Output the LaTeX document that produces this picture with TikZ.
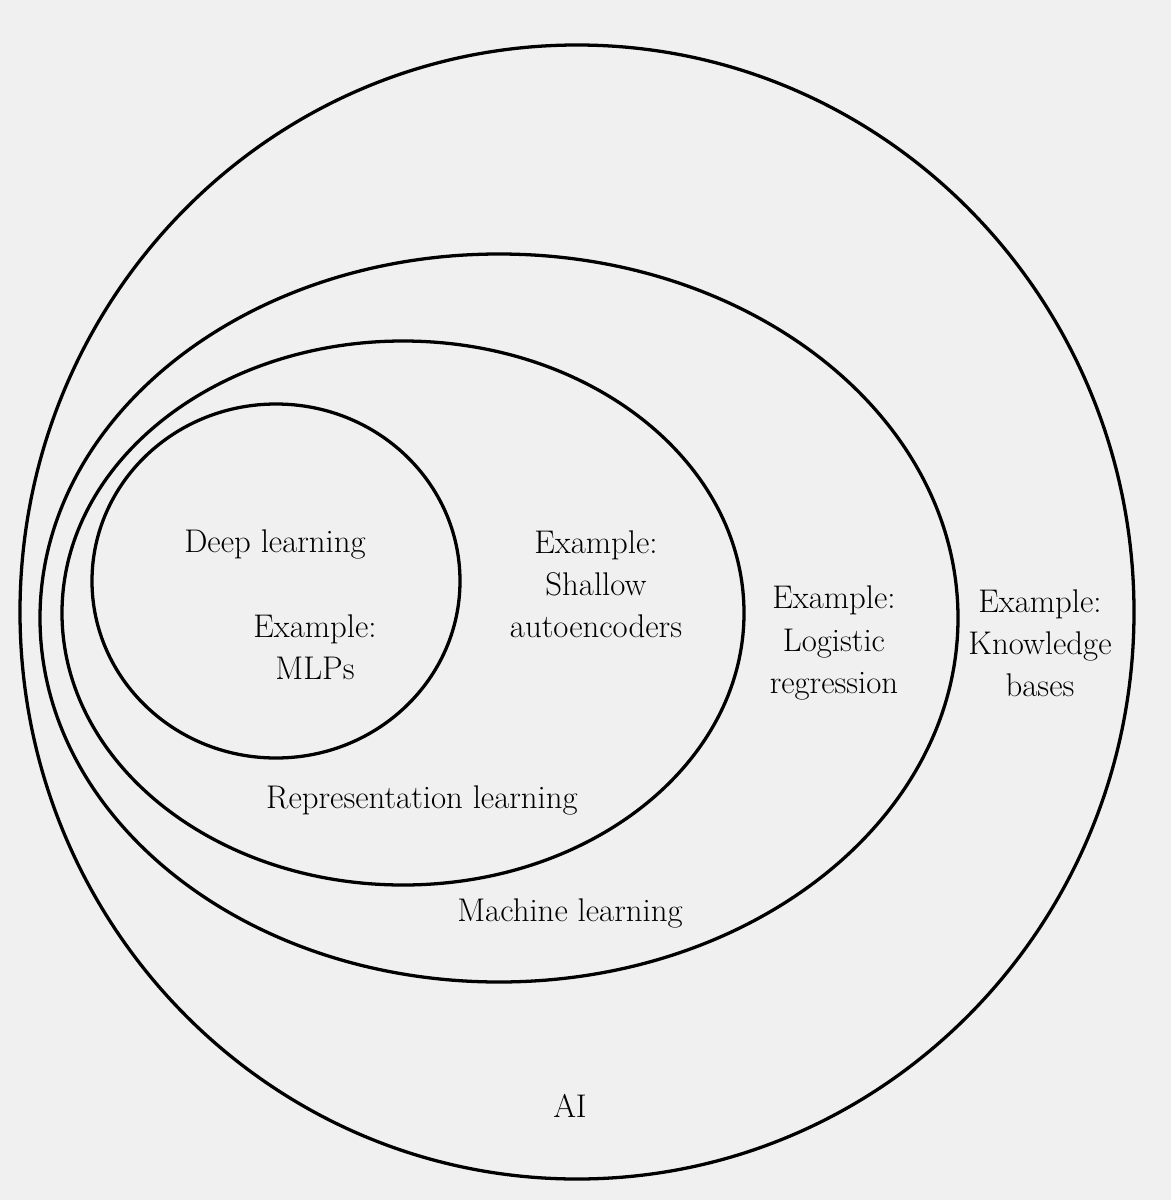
\documentclass[tikz,border=0pt]{standalone}
\begin{document}
\begin{tikzpicture}[x=0.03cm,y=-0.03cm,
  ring/.style={draw=black,line width=2.8pt},
  lbl/.style={font=\fontsize{28}{36}\selectfont,align=center,text=black}]
\fill[black!6] (0,0) rectangle (1171,1200);
\useasboundingbox (0,0) rectangle (1171,1200);
\draw[ring] (577,612) ellipse [x radius=557, y radius=567];
\draw[ring] (499,618) ellipse [x radius=459, y radius=364];
\draw[ring] (403,613) ellipse [x radius=341, y radius=272];
\draw[ring] (276,581) ellipse [x radius=184, y radius=177];
\node[lbl] (dl) at (275,544) {Deep learning};
\node[lbl] (mlp) at (315,647) {Example:\\MLPs};
\node[lbl] (sa) at (596,584) {Example:\\Shallow\\autoencoders};
\node[lbl] (rl) at (422,800) {Representation learning};
\node[lbl] (lr) at (834,643) {Example:\\Logistic\\regression};
\node[lbl] (kb) at (1040,643) {Example:\\Knowledge\\bases};
\node[lbl] (ml) at (570,913) {Machine learning};
\node[lbl] (ai) at (570,1106) {AI};
\end{tikzpicture}
\end{document}
